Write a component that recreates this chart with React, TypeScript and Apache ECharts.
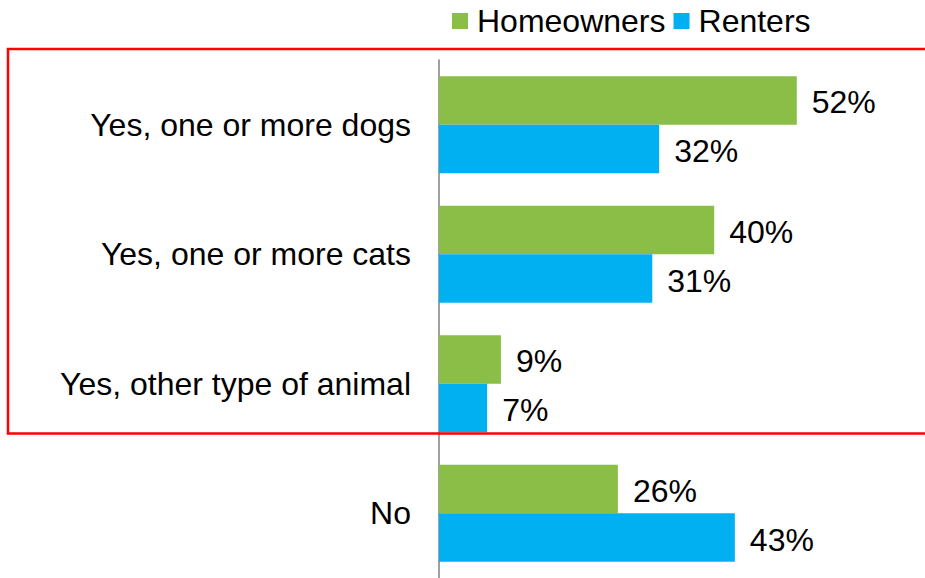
import React, { useEffect, useRef } from "react";
import * as echarts from "echarts";

const categories = [
  "Yes, one or more dogs",
  "Yes, one or more cats",
  "Yes, other type of animal",
  "No",
];
const homeowners = [52, 40, 9, 26];
const renters = [32, 31, 7, 43];
const seriesNames = ["Homeowners", "Renters"];

const FONT = "'Liberation Sans', Arial, sans-serif";

export default function App() {
  const ref = useRef<HTMLDivElement>(null);
  useEffect(() => {
    const chart = echarts.init(ref.current!, null, { renderer: "svg" });
    const labelCfg = {
      show: true,
      position: "right" as const,
      distance: 15,
      offset: [0, 2],
      formatter: "{c}%",
      color: "#000",
      fontSize: 32,
      fontFamily: FONT,
    };
    chart.setOption({
      animation: false,
      backgroundColor: "#fff",
      legend: {
        left: 452,
        top: 5,
        padding: 0,
        icon: "rect",
        itemWidth: 16,
        itemHeight: 16,
        itemGap: 8,
        textStyle: {
          fontSize: 32,
          fontFamily: FONT,
          color: "#000",
          padding: [0, 0, 0, 4],
        },
        data: seriesNames,
      },
      grid: { left: 439, top: 60, width: 481.6, height: 522.7 },
      xAxis: {
        type: "value",
        min: 0,
        max: 70,
        show: false,
        splitLine: { show: false },
      },
      yAxis: {
        type: "category",
        inverse: true,
        data: categories,
        axisLine: { show: true, lineStyle: { color: "#808080", width: 1.5 } },
        axisTick: { show: false },
        axisLabel: {
          margin: 28,
          fontSize: 32,
          fontFamily: FONT,
          color: "#000",
          padding: [3, 0, 0, 0],
        },
      },
      series: [
        {
          name: seriesNames[0],
          type: "bar",
          data: homeowners,
          barCategoryGap: "25%",
          barGap: "0%",
          itemStyle: { color: "#8BBE47" },
          label: labelCfg,
        },
        {
          name: seriesNames[1],
          type: "bar",
          data: renters,
          barCategoryGap: "25%",
          barGap: "0%",
          itemStyle: { color: "#00B0F0" },
          label: labelCfg,
        },
      ],
      graphic: [
        {
          type: "rect",
          shape: { x: 8, y: 49, width: 930, height: 384.5 },
          style: { fill: "none", stroke: "#FF0000", lineWidth: 2.5 },
          z: 100,
        },
      ],
    });
    return () => chart.dispose();
  }, []);
  return (
    <div
      ref={ref}
      style={{ position: "fixed", left: 0, top: 0, width: 925, height: 578 }}
    />
  );
}
